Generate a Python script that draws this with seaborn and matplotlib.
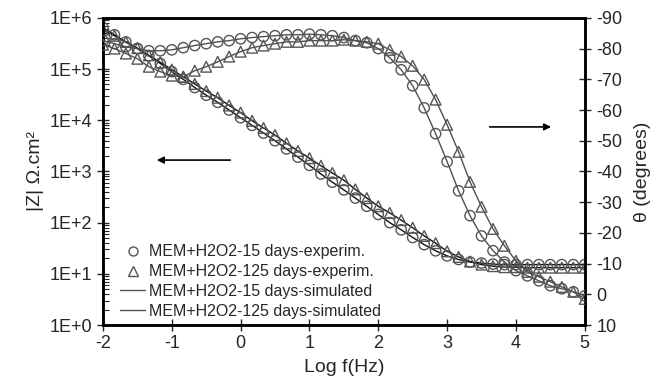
import numpy as np
import pandas as pd
import matplotlib
matplotlib.use("Agg")
import matplotlib.pyplot as plt
from matplotlib.lines import Line2D
from matplotlib.ticker import FixedLocator, FuncFormatter, LogLocator, NullFormatter
import seaborn as sns

# ---- data (log f grid, 6 points per decade) ----
log_f = [-2.0, -1.833, -1.667, -1.5, -1.333, -1.167,
         -1.0, -0.833, -0.667, -0.5, -0.333, -0.167,
         0.0, 0.167, 0.333, 0.5, 0.667, 0.833,
         1.0, 1.167, 1.333, 1.5, 1.667, 1.833,
         2.0, 2.167, 2.333, 2.5, 2.667, 2.833,
         3.0, 3.167, 3.333, 3.5, 3.667, 3.833,
         4.0, 4.167, 4.333, 4.5, 4.667, 4.833,
         5.0]

# log10 |Z| (ohm.cm2)
logZ_15d = [5.81, 5.67, 5.53, 5.40, 5.26, 5.11,
            4.95, 4.80, 4.64, 4.49, 4.35, 4.20,
            4.05, 3.90, 3.75, 3.60, 3.44, 3.28,
            3.12, 2.95, 2.79, 2.64, 2.48, 2.32,
            2.16, 2.00, 1.86, 1.71, 1.57, 1.45,
            1.35, 1.28, 1.23, 1.21, 1.19, 1.18,
            1.18, 1.18, 1.18, 1.18, 1.18, 1.18,
            1.18]
logZ_125d = [5.77, 5.65, 5.53, 5.41, 5.27, 5.13,
             4.99, 4.85, 4.71, 4.57, 4.44, 4.29,
             4.15, 3.99, 3.85, 3.71, 3.55, 3.40,
             3.26, 3.11, 2.97, 2.83, 2.65, 2.48,
             2.32, 2.19, 2.05, 1.90, 1.74, 1.60,
             1.44, 1.33, 1.24, 1.18, 1.15, 1.13,
             1.13, 1.12, 1.12, 1.12, 1.12, 1.12,
             1.12]

# phase angle (degrees)
phase_15d = [-82.6, -81.6, -80.6, -80.0, -79.3, -79.3,
             -79.6, -80.3, -81.0, -81.6, -82.2, -82.6,
             -83.2, -83.6, -83.9, -84.2, -84.5, -84.5,
             -84.7, -84.5, -84.2, -83.6, -82.6, -81.9,
             -80.0, -77.0, -73.1, -67.9, -60.7, -52.3,
             -43.2, -33.7, -25.6, -19.0, -14.2, -10.5,
             -7.7, -6.0, -4.4, -2.8, -1.8, -0.8,
             0.5]
phase_125d = [-81.3, -80.0, -78.4, -76.7, -74.1, -72.5,
              -71.2, -70.8, -72.8, -74.1, -75.7, -77.4,
              -79.0, -80.3, -81.0, -81.6, -82.2, -82.2,
              -82.6, -82.6, -82.6, -82.9, -82.6, -82.2,
              -81.6, -79.6, -77.4, -74.4, -69.9, -63.4,
              -55.2, -46.4, -36.6, -28.5, -21.3, -15.8,
              -10.9, -7.3, -5.7, -4.1, -2.4, -0.8,
              1.5]

labels = ["MEM+H2O2-15 days-experim.", "MEM+H2O2-125 days-experim.",
          "MEM+H2O2-15 days-simulated", "MEM+H2O2-125 days-simulated"]
x_ticks = [-2, -1, 0, 1, 2, 3, 4, 5]
z_ticks = [1e0, 1e1, 1e2, 1e3, 1e4, 1e5, 1e6]
phase_ticks = [10, 0, -10, -20, -30, -40, -50, -60, -70, -80, -90]

df = pd.DataFrame({
    "logf": log_f,
    "Z15": np.power(10.0, logZ_15d),
    "Z125": np.power(10.0, logZ_125d),
    "P15": phase_15d,
    "P125": phase_125d,
})

sns.set_style("ticks")
plt.rcParams["font.family"] = ["Liberation Sans", "DejaVu Sans"]
plt.rcParams["axes.unicode_minus"] = False

MARK = "#555555"
ZLINE = "#111111"
PLINE = "#505050"

fig = plt.figure(figsize=(6.6, 3.89), dpi=100)
ax = fig.add_axes([0.156, 0.1645, 0.730, 0.7895])
ax2 = ax.twinx()

# |Z| curves (left axis)
sns.lineplot(data=df, x="logf", y="Z15", ax=ax, color=ZLINE, lw=1.0)
sns.lineplot(data=df, x="logf", y="Z125", ax=ax, color=ZLINE, lw=1.0)
sns.scatterplot(data=df, x="logf", y="Z15", ax=ax, marker="o", s=55,
                facecolor="none", edgecolor=MARK, linewidth=1.0, zorder=3)
sns.scatterplot(data=df, x="logf", y="Z125", ax=ax, marker="^", s=60,
                facecolor="none", edgecolor=MARK, linewidth=1.0, zorder=3)

# phase curves (right axis)
sns.lineplot(data=df, x="logf", y="P15", ax=ax2, color=PLINE, lw=1.0)
sns.lineplot(data=df, x="logf", y="P125", ax=ax2, color=PLINE, lw=1.0)
sns.scatterplot(data=df, x="logf", y="P15", ax=ax2, marker="o", s=55,
                facecolor="none", edgecolor=MARK, linewidth=1.0, zorder=3)
sns.scatterplot(data=df, x="logf", y="P125", ax=ax2, marker="^", s=60,
                facecolor="none", edgecolor=MARK, linewidth=1.0, zorder=3)

# axes setup
ax.set_xlim(-2, 5)
ax.set_yscale("log")
ax.set_ylim(1e0, 1e6)
ax.xaxis.set_major_locator(FixedLocator(x_ticks))
ax.yaxis.set_major_locator(FixedLocator(z_ticks))
ax.yaxis.set_major_formatter(FuncFormatter(lambda v, p: "1E+%d" % round(np.log10(v))))
ax.yaxis.set_minor_locator(LogLocator(base=10, subs=np.arange(2, 10)))
ax.yaxis.set_minor_formatter(NullFormatter())

ax2.set_ylim(10, -90)
ax2.yaxis.set_major_locator(FixedLocator(phase_ticks))

for a in (ax, ax2):
    for sp in a.spines.values():
        sp.set_linewidth(1.8)
        sp.set_color("black")

ax.tick_params(axis="x", which="major", direction="inout", length=9, width=1,
               labelsize=13, pad=3, top=False)
ax.tick_params(axis="y", which="major", direction="inout", length=9, width=1,
               labelsize=13, pad=3, right=False)
ax.tick_params(axis="y", which="minor", direction="in", length=4, width=0.8, right=False)
ax2.tick_params(axis="y", which="major", direction="inout", length=9, width=1,
                labelsize=13, pad=4)
ax2.tick_params(axis="y", which="minor", right=False)

ax.set_xlabel("Log f(Hz)", fontsize=14, labelpad=5)
ax.set_ylabel("|Z| \u03a9.cm\u00b2", fontsize=14, labelpad=4)
ax2.set_ylabel("\u03b8 (degrees)", fontsize=14, labelpad=8, rotation=90)

# arrows pointing to each axis
ax2.annotate("", xy=(0.106, 0.537), xytext=(0.27, 0.537), xycoords="axes fraction",
             arrowprops=dict(arrowstyle="-|>", color="black", lw=1.2, mutation_scale=10))
ax2.annotate("", xy=(0.936, 0.645), xytext=(0.797, 0.645), xycoords="axes fraction",
             arrowprops=dict(arrowstyle="-|>", color="black", lw=1.2, mutation_scale=10))

handles = [
    Line2D([], [], ls="none", marker="o", ms=6.5, mfc="none", mec=MARK, mew=1.0),
    Line2D([], [], ls="none", marker="^", ms=7, mfc="none", mec=MARK, mew=1.0),
    Line2D([], [], color=PLINE, lw=1.0),
    Line2D([], [], color=PLINE, lw=1.0),
]
ax2.legend(handles, labels, loc="lower left", bbox_to_anchor=(0.035, 0.02),
           frameon=False, fontsize=11.5, handlelength=1.6, handletextpad=0.2,
           labelspacing=0.3, borderpad=0, borderaxespad=0)

fig.savefig("out.png", dpi=100)
